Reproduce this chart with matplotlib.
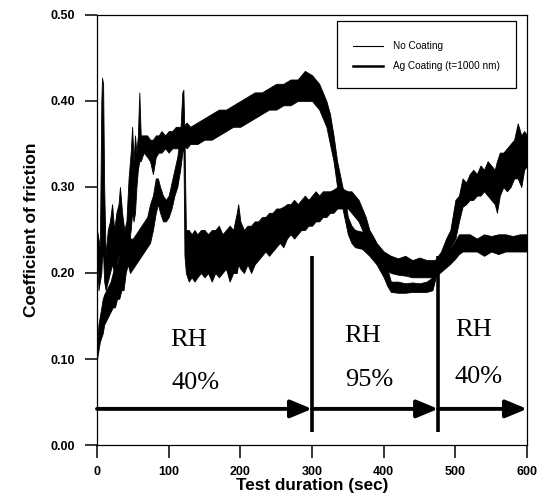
import numpy as np
import matplotlib.pyplot as plt
from matplotlib.lines import Line2D
from matplotlib.patches import Rectangle

# No coating trace: time (s), lower / upper edge of the noisy band
t_nc = [0, 2, 4, 6, 7, 8.5, 10, 12, 15, 18, 21, 24, 27, 30, 32, 35, 38, 41, 44, 47,
        49, 51, 53, 55, 57, 59, 61, 65, 70, 74, 78, 82, 86, 90, 95, 100, 105, 110, 115, 120,
        125, 130, 140, 150, 160, 170, 180, 190, 200, 210, 220, 230, 240, 250, 260, 270, 280, 290, 300, 305,
        310, 315, 320, 325, 330, 335, 340, 345, 350, 355, 360, 370, 380, 390, 400, 405, 410, 420, 430, 440,
        450, 460, 468, 474, 480, 487, 493, 500, 505, 510, 515, 520, 525, 530, 535, 540, 545, 550, 555, 558,
        562, 567, 572, 577, 582, 587, 592, 596, 600]
lo_nc = [0.22, 0.18, 0.19, 0.20, 0.22, 0.22, 0.19, 0.18, 0.19, 0.20, 0.21, 0.20, 0.21, 0.22, 0.22, 0.21, 0.20, 0.21, 0.23, 0.25,
         0.27, 0.26, 0.27, 0.30, 0.32, 0.33, 0.33, 0.34, 0.335, 0.33, 0.315, 0.335, 0.34, 0.34, 0.345, 0.34, 0.345, 0.345, 0.345, 0.35,
         0.345, 0.35, 0.35, 0.355, 0.355, 0.36, 0.365, 0.37, 0.37, 0.375, 0.38, 0.385, 0.39, 0.39, 0.395, 0.395, 0.40, 0.40, 0.40, 0.395,
         0.39, 0.38, 0.37, 0.35, 0.33, 0.30, 0.285, 0.265, 0.245, 0.235, 0.23, 0.228, 0.22, 0.21, 0.195, 0.185, 0.178, 0.177, 0.177, 0.178,
         0.178, 0.178, 0.18, 0.20, 0.21, 0.22, 0.23, 0.24, 0.26, 0.277, 0.28, 0.285, 0.285, 0.29, 0.29, 0.295, 0.29, 0.285, 0.28, 0.27,
         0.29, 0.30, 0.295, 0.30, 0.31, 0.31, 0.30, 0.32, 0.325]
hi_nc = [0.25, 0.24, 0.23, 0.40, 0.427, 0.42, 0.30, 0.22, 0.25, 0.26, 0.28, 0.25, 0.27, 0.28, 0.30, 0.27, 0.25, 0.26, 0.31, 0.34,
         0.37, 0.33, 0.36, 0.34, 0.36, 0.41, 0.36, 0.36, 0.36, 0.355, 0.355, 0.36, 0.36, 0.365, 0.36, 0.365, 0.365, 0.37, 0.37, 0.37,
         0.375, 0.37, 0.375, 0.38, 0.385, 0.39, 0.39, 0.395, 0.40, 0.405, 0.41, 0.41, 0.415, 0.42, 0.42, 0.425, 0.425, 0.435, 0.43, 0.425,
         0.42, 0.41, 0.40, 0.385, 0.36, 0.33, 0.31, 0.29, 0.265, 0.255, 0.25, 0.248, 0.245, 0.23, 0.215, 0.205, 0.19, 0.19, 0.188, 0.189,
         0.188, 0.19, 0.195, 0.218, 0.225, 0.24, 0.25, 0.285, 0.29, 0.31, 0.305, 0.315, 0.32, 0.315, 0.325, 0.32, 0.33, 0.325, 0.32, 0.33,
         0.34, 0.34, 0.345, 0.35, 0.355, 0.374, 0.36, 0.365, 0.36]

# Ag coating (t=1000 nm) trace
t_ag = [0, 2, 4, 6, 8, 10, 13, 16, 19, 22, 25, 28, 31, 34, 37, 40, 43, 46, 50, 54,
        58, 62, 66, 70, 74, 78, 82, 85, 88, 92, 96, 100, 104, 108, 112, 116, 119, 120.5, 122, 124,
        128, 132, 136, 140, 145, 150, 155, 160, 165, 170, 175, 180, 185, 190, 195, 197, 200, 205, 210, 215,
        220, 225, 230, 235, 240, 245, 250, 255, 260, 265, 270, 275, 280, 285, 290, 295, 300, 305, 310, 315,
        320, 325, 330, 335, 340, 345, 350, 355, 360, 365, 370, 375, 380, 385, 390, 400, 410, 420, 430, 440,
        450, 460, 470, 478, 485, 492, 498, 505, 510, 520, 530, 540, 550, 560, 570, 580, 590, 600]
lo_ag = [0.10, 0.11, 0.12, 0.125, 0.13, 0.14, 0.145, 0.15, 0.155, 0.16, 0.16, 0.17, 0.17, 0.18, 0.18, 0.20, 0.21, 0.20, 0.205, 0.21,
         0.215, 0.22, 0.225, 0.23, 0.235, 0.25, 0.27, 0.28, 0.27, 0.26, 0.26, 0.265, 0.275, 0.29, 0.30, 0.32, 0.34, 0.35, 0.22, 0.20,
         0.19, 0.195, 0.19, 0.195, 0.20, 0.195, 0.20, 0.19, 0.20, 0.195, 0.20, 0.205, 0.19, 0.20, 0.20, 0.21, 0.205, 0.20, 0.21, 0.20,
         0.21, 0.215, 0.22, 0.225, 0.22, 0.225, 0.23, 0.235, 0.23, 0.24, 0.245, 0.24, 0.245, 0.25, 0.25, 0.255, 0.255, 0.26, 0.26, 0.265,
         0.265, 0.27, 0.27, 0.275, 0.275, 0.275, 0.275, 0.27, 0.265, 0.26, 0.25, 0.24, 0.23, 0.225, 0.215, 0.205, 0.20, 0.198, 0.197, 0.195,
         0.195, 0.195, 0.195, 0.20, 0.205, 0.21, 0.215, 0.222, 0.225, 0.225, 0.225, 0.22, 0.225, 0.222, 0.225, 0.225, 0.225, 0.225]
hi_ag = [0.115, 0.14, 0.15, 0.16, 0.17, 0.175, 0.18, 0.185, 0.19, 0.20, 0.21, 0.21, 0.22, 0.22, 0.23, 0.24, 0.25, 0.24, 0.24, 0.245,
         0.25, 0.255, 0.26, 0.265, 0.28, 0.29, 0.31, 0.31, 0.30, 0.29, 0.285, 0.29, 0.305, 0.32, 0.335, 0.36, 0.41, 0.413, 0.36, 0.25,
         0.25, 0.245, 0.25, 0.245, 0.25, 0.25, 0.245, 0.25, 0.25, 0.255, 0.245, 0.25, 0.255, 0.25, 0.27, 0.28, 0.26, 0.25, 0.255, 0.255,
         0.26, 0.26, 0.265, 0.265, 0.27, 0.27, 0.275, 0.275, 0.277, 0.28, 0.28, 0.285, 0.28, 0.285, 0.29, 0.285, 0.29, 0.295, 0.29, 0.295,
         0.295, 0.295, 0.297, 0.30, 0.30, 0.297, 0.295, 0.295, 0.29, 0.285, 0.275, 0.265, 0.25, 0.243, 0.235, 0.225, 0.22, 0.217, 0.22, 0.215,
         0.218, 0.215, 0.215, 0.218, 0.225, 0.228, 0.235, 0.245, 0.245, 0.245, 0.24, 0.245, 0.243, 0.245, 0.245, 0.243, 0.245, 0.245]

# relative humidity segments
rh_bounds = [0, 300, 476, 600]
rh_values = ['40%', '95%', '40%']
rh_text_x = [128, 371, 525]
rh_pct_x = [137, 380, 533]
rh_text_y = [0.122, 0.127, 0.134]
rh_pct_y = [0.072, 0.076, 0.079]

sans = ['Liberation Sans', 'DejaVu Sans']
serif = ['Liberation Serif', 'DejaVu Serif']

fig = plt.figure(figsize=(5.42, 5.03), dpi=100)
ax = fig.add_axes([0.179, 0.1153, 0.7934, 0.8549])

ax.fill_between(t_nc, lo_nc, hi_nc, color='black', lw=0.6)
ax.fill_between(t_ag, lo_ag, hi_ag, color='black', lw=0.6)

# humidity markers
for b in rh_bounds[1:3]:
    ax.plot([b, b], [0.015, 0.22], color='black', lw=2.6, solid_capstyle='butt')
for i in range(3):
    ax.annotate('', xy=(rh_bounds[i + 1], 0.042), xytext=(rh_bounds[i], 0.042),
                arrowprops=dict(arrowstyle='-|>,head_length=0.65,head_width=0.27', color='black',
                                lw=2.8, mutation_scale=20, shrinkA=0, shrinkB=0))
    ax.text(rh_text_x[i], rh_text_y[i], 'RH', family=serif, fontsize=19, ha='center', va='center')
    ax.text(rh_pct_x[i], rh_pct_y[i], rh_values[i], family=serif, fontsize=19, ha='center', va='center')

ax.set_xlim(0, 600)
ax.set_ylim(0, 0.5)
ax.set_xticks([0, 100, 200, 300, 400, 500, 600])
ax.set_yticks([0.0, 0.1, 0.2, 0.3, 0.4, 0.5])
ax.set_yticklabels(['%.2f' % v for v in [0.0, 0.1, 0.2, 0.3, 0.4, 0.5]])
ax.tick_params(direction='out', length=9, width=1.1, labelsize=9)
ax.tick_params(axis='x', pad=6)
ax.tick_params(axis='y', pad=7)
for lab in ax.get_xticklabels() + ax.get_yticklabels():
    lab.set_fontweight('bold')
    lab.set_family(sans)
for s in ax.spines.values():
    s.set_linewidth(0.9)

ax.set_xlabel('Test duration (sec)', family=sans, fontsize=12.3, fontweight='bold', labelpad=0)
ax.set_ylabel('Coefficient of friction', family=sans, fontsize=12.5, fontweight='bold', labelpad=8)

# legend: entries without frame, box drawn separately
handles = [Line2D([], [], color='black', lw=0.8), Line2D([], [], color='black', lw=1.8)]
ax.legend(handles, ['No Coating', 'Ag Coating (t=1000 nm)'], loc='upper left',
          bbox_to_anchor=(0.5953, 0.9395), borderaxespad=0, borderpad=0, frameon=False,
          prop={'family': sans, 'size': 7.2}, labelspacing=1.0, handlelength=3.0, handletextpad=1.0)
ax.add_patch(Rectangle((0.558, 0.830), 0.416, 0.156, transform=ax.transAxes,
                       fill=False, edgecolor='black', lw=0.9, zorder=5))

fig.savefig('out.png', dpi=100)
